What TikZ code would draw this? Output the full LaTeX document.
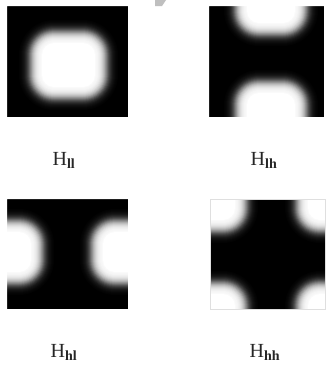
\documentclass[tikz,border=0pt]{standalone}
\usepackage{fontspec}
\setmainfont{Liberation Serif}

% soft (blurred) white rounded box: x1, y1, x2, y2, radius
\newcommand{\softbox}[5]{%
  \foreach \k in {-11,...,11}{
    \pgfmathtruncatemacro\shade{100/(1+exp(-\k/2.8))}
    \pgfmathsetmacro\rad{#5-\k}
    \fill[white!\shade!black, rounded corners=\rad pt] ({#1+\k},{#2+\k}) rectangle ({#3-\k},{#4-\k});
  }
  \pgfmathsetmacro\rad{#5-12}
  \fill[white, rounded corners=\rad pt] ({#1+12},{#2+12}) rectangle ({#3-12},{#4-12});
}

\begin{document}
\begin{tikzpicture}[x=1pt, y=-1pt,
  bandname/.style={anchor=base, inner sep=0pt, text=black!85, font=\fontsize{20}{23}\selectfont}]
	\useasboundingbox (0,0) rectangle (326,365);
	% H_ll
	\begin{scope}
		\clip (7,6) rectangle (128,117);
		\fill[black] (7,6) rectangle (128,117);
		\softbox{30}{31}{107}{99}{24}
	\end{scope}
	% H_lh
	\begin{scope}
		\clip (209,6) rectangle (324,117);
		\fill[black] (209,6) rectangle (324,117);
		\softbox{235}{-30}{307}{35}{24}
		\softbox{235}{81}{307}{150}{24}
	\end{scope}
	% H_hl
	\begin{scope}
		\clip (7,199) rectangle (128,309);
		\fill[black] (7,199) rectangle (128,309);
		\softbox{-40}{220}{43}{284}{24}
		\softbox{91}{220}{170}{284}{24}
	\end{scope}
	% H_hh
	\begin{scope}
		\clip (210,199) rectangle (325,309);
		\fill[black] (210,199) rectangle (325,309);
		\softbox{170}{160}{247}{232}{24}
		\softbox{296}{160}{370}{232}{24}
		\softbox{170}{282}{247}{350}{24}
		\softbox{296}{282}{370}{350}{24}
	\end{scope}
	% white mask round the four squares
	\fill[white, even odd rule] (-5,-5) rectangle (331,370)
		(7,6) rectangle (128,117) (209,6) rectangle (324,117)
		(7,199) rectangle (128,309) (210,199) rectangle (325,309);
	\draw[gray!25, line width=0.8pt] (210,199) rectangle (325,309);
	% labels
	\node[bandname] (lbl-ll) at (64,165) {H\textsubscript{\textbf{ll}}};
	\node[bandname] (lbl-lh) at (264,165) {H\textsubscript{\textbf{lh}}};
	\node[bandname] (lbl-hl) at (64,357) {H\textsubscript{\textbf{hl}}};
	\node[bandname] (lbl-hh) at (265,357) {H\textsubscript{\textbf{hh}}};
	% corner mark
	\fill[gray!50] (155,0) -- (166,0) -- (162,6) -- (155,6) -- cycle;
\end{tikzpicture}
\end{document}
